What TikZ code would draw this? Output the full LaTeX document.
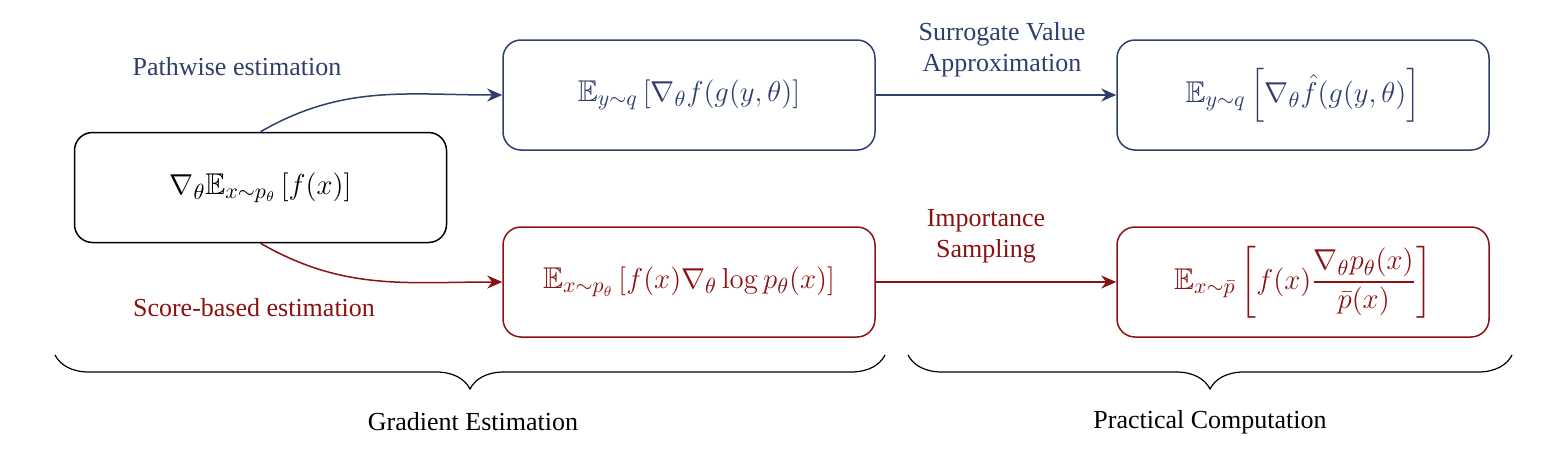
\documentclass[tikz,border=0pt]{standalone}
\usepackage{amsmath,amssymb}
\usepackage[no-math]{fontspec}
\setmainfont{Liberation Serif}
\usetikzlibrary{arrows.meta,decorations.pathreplacing}
\definecolor{azul}{RGB}{47,62,107}
\definecolor{rojo}{RGB}{139,18,18}
\tikzset{
  caja/.style={draw,rounded corners=9pt,minimum width=186pt,minimum height=55pt,line width=0.75pt,font=\fontsize{15}{18}\selectfont},
  flecha/.style={line width=0.75pt,-{Stealth[length=7.5pt,width=6.5pt]}},
  etiq/.style={font=\fontsize{13}{15.5}\selectfont,align=center},
  llave/.style={line width=0.6pt,decorate,decoration={brace,mirror,amplitude=17pt}}
}
\begin{document}
\begin{tikzpicture}[x=0.5pt,y=-0.5pt]
\useasboundingbox (0,0) rectangle (1566,466);
\node[caja] (origen) at (260.5,187.5) {$\nabla_\theta\mathbb{E}_{x\sim p_\theta}\left[f(x)\right]$}; % caja origen
\node[caja,draw=azul,text=azul] (ruta) at (689,95) {$\mathbb{E}_{y\sim q}\left[\nabla_\theta f(g(y,\theta)\right]$};
\node[caja,draw=azul,text=azul] (sustituto) at (1303,95) {$\mathbb{E}_{y\sim q}\left[\nabla_\theta \hat{f}(g(y,\theta)\right]$};
\node[caja,draw=rojo,text=rojo] (score) at (689,282) {$\mathbb{E}_{x\sim p_\theta}\left[f(x)\nabla_\theta\log p_\theta(x)\right]$};
\node[caja,draw=rojo,text=rojo] (muestreo) at (1303,282) {$\mathbb{E}_{x\sim \bar{p}}\left[f(x)\dfrac{\nabla_\theta p_\theta(x)}{\bar{p}(x)}\right]$};
% flechas
\draw[flecha,azul] (origen.north) to[out=30,in=180] (ruta.west);
\draw[flecha,rojo] (origen.south) to[out=-30,in=180] (score.west);
\draw[flecha,azul] (ruta.east) -- (sustituto.west);
\draw[flecha,rojo] (score.east) -- (muestreo.west);
\node[etiq,text=azul] (lruta) at (237,67) {Pathwise estimation};
\node[etiq,text=rojo] (lscore) at (254,308) {Score-based estimation};
\node[etiq,text=azul] (lsustituto) at (1002,50) {Surrogate Value\\Approximation};
\node[etiq,text=rojo] (lmuestreo) at (986,236) {Importance\\Sampling};
% llaves
\coordinate (g1) at (55,355);
\coordinate (g2) at (885,355);
\coordinate (p1) at (908,355);
\coordinate (p2) at (1512,355);
\draw[llave] (g1) -- (g2);
\draw[llave] (p1) -- (p2);
\node[etiq] (lgrad) at (473,422) {Gradient Estimation};
\node[etiq] (lprac) at (1210,422) {Practical Computation};
\end{tikzpicture}
\end{document}
